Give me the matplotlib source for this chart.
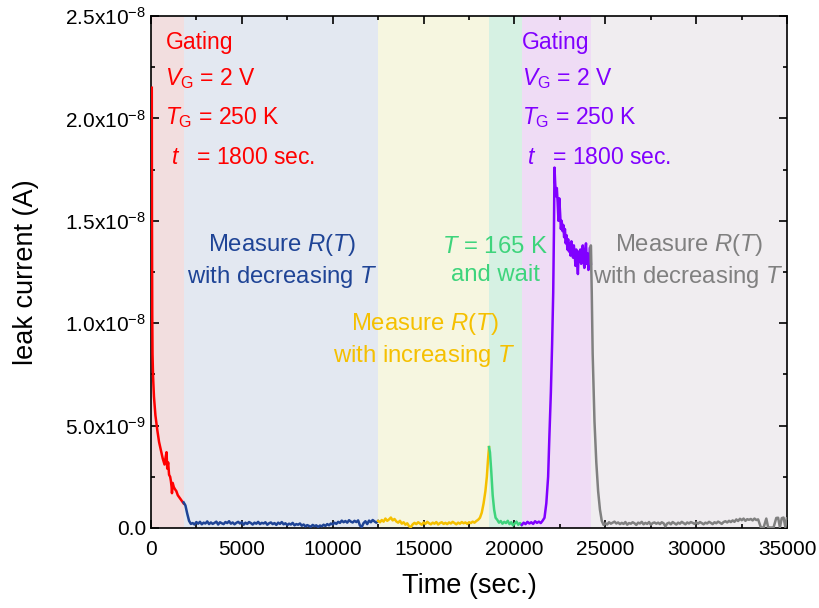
import numpy as np
import matplotlib.pyplot as plt
from matplotlib.ticker import MultipleLocator, FixedLocator

plt.rcParams['font.family'] = ['Liberation Sans', 'DejaVu Sans']
plt.rcParams['mathtext.fontset'] = 'custom'
plt.rcParams['mathtext.rm'] = 'Liberation Sans'
plt.rcParams['mathtext.it'] = 'Liberation Sans:italic'
plt.rcParams['mathtext.bf'] = 'Liberation Sans:bold'

# stage boundaries (sec.)
stage_edges = [0, 1800, 12500, 18600, 20400, 24200, 35000]
stage_bg = ['#f2dedf', '#e3e8f1', '#f6f6e0', '#d6f1e3', '#efdcf5', '#f0edf0']

# gating 1 (red)
red_t = [50, 60, 75, 90, 120, 170, 250, 350, 450, 550, 650, 750, 820, 860, 900, 950,
         1000, 1060, 1100, 1140, 1160, 1200, 1260, 1320, 1400, 1480, 1560, 1640, 1720, 1800]
red_i = [21.5, 15.0, 10.5, 8.5, 7.4, 6.4, 5.5, 4.8, 4.2, 3.8, 3.4, 3.1, 3.5, 3.7, 2.9, 3.2,
         2.6, 2.5, 2.3, 2.0, 1.7, 2.2, 2.0, 1.9, 1.8, 1.6, 1.5, 1.4, 1.3, 1.2]  # 1e-9 A

# R(T), decreasing T (blue)
blue_head_t = [1800, 1900, 2000, 2100, 2200]
blue_head_i = [12.5, 11.0, 7.0, 3.5, 2.0]  # 1e-10 A
blue_noise = [2.4, 1.7, 2.9, 2.1, 3.0, 1.8, 2.6, 2.2, 3.2, 1.9,
              2.7, 2.0, 2.5, 3.1, 1.7, 2.8, 2.3, 1.9, 2.9, 2.4,
              3.3, 2.1, 2.7, 1.8, 2.5, 3.0, 2.2, 2.8, 1.6, 2.6,
              2.0, 2.9, 2.4, 1.7, 2.6, 2.1, 3.0, 1.9, 2.5, 2.2,
              2.8, 1.6, 2.3, 2.7, 1.9, 2.4, 1.5, 2.6, 2.0, 2.9,
              1.8, 2.3, 1.4, 2.1, 1.7, 2.5, 1.3, 1.9, 1.6, 2.2,
              1.1, 1.7, 0.8, 1.4, 1.0, 0.6, 1.5, 0.9, 1.3, 0.5,
              1.2, 0.8, 1.6, 1.0, 1.9, 1.3, 2.2, 1.7, 2.6, 2.0,
              3.0, 2.5, 3.6, 2.8, 3.4, 2.6, 3.8, 3.1, 2.7, 3.5,
              2.9, 3.7, 1.2, 0.5, 2.4, 3.3, 1.9, 3.6, 2.8, 3.9,
              3.2, 2.6, 3.4]  # 1e-10 A, 2300..12500

# R(T), increasing T (yellow)
yellow_noise = [3.4, 2.8, 3.9, 3.1, 4.6, 3.5, 4.2, 5.1, 3.7, 4.4,
                3.2, 2.6, 3.5, 2.1, 2.8, 1.6, 2.3, 0.9, 0.4, 1.8,
                2.5, 1.9, 2.8, 2.2, 1.6, 2.7, 2.0, 3.0, 2.3, 1.8,
                2.6, 2.1, 2.9, 1.7, 2.4, 2.8, 2.0, 2.5, 1.9, 2.7,
                2.2, 3.0, 2.4, 1.8, 2.6, 2.1, 2.9, 2.3, 2.7, 2.0,
                2.8, 2.4, 3.1, 2.6, 3.4, 4.0]  # 1e-10 A, 12500..18000
yellow_rise_t = [18100, 18200, 18300, 18400, 18480, 18540, 18600]
yellow_rise_i = [5.0, 7.5, 12.0, 18.0, 25.0, 33.0, 39.5]  # 1e-10 A

# T = 165 K and wait (green)
green_fall_t = [18600, 18650, 18720, 18800, 18880, 18960]
green_fall_i = [39.5, 37.0, 28.0, 16.0, 9.0, 5.0]
green_noise = [4.0, 2.6, 3.4, 2.1, 3.0, 2.4, 3.5, 1.9, 2.8, 1.3, 2.2, 3.1, 1.6, 2.4, 1.5]

# gating 2 (purple)
purple_noise = [1.5, 2.6, 1.9, 3.0, 2.2, 2.8, 2.0, 3.3, 2.5, 3.1, 2.4, 3.6]  # 1e-10 A
purple_rise_t = [21650, 21750, 21850, 21920, 22000, 22070, 22130, 22170, 22200]
purple_rise_i = [0.5, 1.2, 2.5, 4.5, 6.6, 9.0, 11.5, 14.5, 17.6]  # 1e-9 A
purple_tail = [16.8, 16.2, 16.6, 15.9, 15.0, 16.1, 15.4, 14.6, 15.0, 14.5, 14.8, 14.2, 14.6, 13.9, 14.3,
               13.6, 14.1, 13.5, 13.9, 13.3, 14.0, 13.7, 13.2, 13.8, 13.4, 12.8, 13.6, 13.1, 12.4, 13.5,
               13.0, 13.6, 12.9, 13.3, 13.8, 13.0, 12.7, 13.5, 13.9, 12.9, 13.4, 12.6, 13.2, 13.7, 12.9]

# R(T), decreasing T again (gray)
gray_fall_t = [24200, 24200, 24250, 24300, 24400, 24500, 24600, 24700, 24800, 24900]
gray_fall_i = [12.9, 13.8, 11.5, 8.5, 5.2, 3.2, 1.8, 0.9, 0.35, 0.15]  # 1e-9 A
gray_noise = [2.3, 1.7, 2.8, 2.1, 2.6, 3.1, 2.2, 2.7, 1.9, 2.5,
              2.0, 2.9, 1.6, 2.4, 2.1, 2.8, 2.3, 1.5, 2.6, 2.2,
              3.0, 1.8, 2.5, 2.0, 2.9, 1.6, 2.4, 2.7, 2.1, 2.6,
              1.9, 2.8, 2.3, 0.8, 2.2, 2.6, 1.8, 2.9, 2.3, 1.7,
              2.6, 2.1, 3.0, 2.4, 1.8, 2.7, 2.2, 2.9, 2.5, 2.0,
              2.7, 2.1, 2.9, 2.4, 1.8, 2.6, 2.2, 3.0, 2.5, 1.9,
              2.8, 2.3, 3.1, 2.6, 2.0, 2.9, 3.3, 2.7, 3.5, 2.9,
              3.7, 3.0, 4.2, 3.4, 4.5, 3.8, 4.6, 3.5, 4.3, 4.0,
              4.4, 3.7, 4.6, 3.9, 4.2]  # 1e-10 A, 25000..33400
gray_end_t = [33550, 33700, 33850, 33950, 34100, 34250, 34400, 34500, 34600, 34700, 34800, 34900, 34980]
gray_end_i = [0.3, 0.2, 4.6, 0.4, 0.2, 0.3, 4.9, 5.0, 0.3, 4.8, 5.1, 0.4, 4.7]  # 1e-10 A

# assemble the traces
red_x = np.array(red_t)
red_y = np.array(red_i) * 1e-9

blue_x = np.concatenate([blue_head_t, np.linspace(2300, 12500, len(blue_noise))])
blue_y = np.concatenate([blue_head_i, blue_noise]) * 1e-10

yellow_x = np.concatenate([np.linspace(12500, 18000, len(yellow_noise)), yellow_rise_t])
yellow_y = np.concatenate([yellow_noise, yellow_rise_i]) * 1e-10

green_x = np.concatenate([green_fall_t, np.linspace(19050, 20400, len(green_noise))])
green_y = np.concatenate([green_fall_i, green_noise]) * 1e-10

purple_x = np.concatenate([np.linspace(20400, 21550, len(purple_noise)), purple_rise_t,
                           np.linspace(22240, 24200, len(purple_tail))])
purple_y = np.concatenate([np.array(purple_noise) * 1e-10, np.array(purple_rise_i) * 1e-9,
                           np.array(purple_tail) * 1e-9])

gray_x = np.concatenate([gray_fall_t, np.linspace(25000, 33400, len(gray_noise)), gray_end_t])
gray_y = np.concatenate([np.array(gray_fall_i) * 1e-9, np.array(gray_noise) * 1e-10,
                         np.array(gray_end_i) * 1e-10])

fig = plt.figure(figsize=(8.2, 6.08), dpi=100)
ax = fig.add_axes([0.184, 0.1316, 0.776, 0.842])

for i in range(len(stage_bg)):
    ax.axvspan(stage_edges[i], stage_edges[i + 1], color=stage_bg[i], lw=0, zorder=0)

lw = 1.8
ax.plot(red_x, red_y, color='#ff0000', lw=lw, zorder=3)
ax.plot(blue_x, blue_y, color='#1f4496', lw=lw, zorder=3)
ax.plot(yellow_x, yellow_y, color='#f5c000', lw=lw, zorder=3)
ax.plot(green_x, green_y, color='#3ed47c', lw=lw, zorder=3)
ax.plot(purple_x, purple_y, color='#8000ff', lw=lw, zorder=3)
ax.plot(gray_x, gray_y, color='#808080', lw=lw, zorder=3)

ax.set_xlim(0, 35000)
ax.set_ylim(0, 2.5e-8)
ax.xaxis.set_major_locator(MultipleLocator(5000))
ax.xaxis.set_minor_locator(MultipleLocator(2500))
yticks = [0, 5e-9, 1e-8, 1.5e-8, 2e-8, 2.5e-8]
ax.yaxis.set_major_locator(FixedLocator(yticks))
ax.yaxis.set_minor_locator(MultipleLocator(2.5e-9))
ax.set_yticklabels(['0.0', r'5.0x10$^{-9}$', r'1.0x10$^{-8}$', r'1.5x10$^{-8}$',
                    r'2.0x10$^{-8}$', r'2.5x10$^{-8}$'])
ax.tick_params(which='both', direction='in', top=True, right=True, width=1.2, labelsize=15)
ax.tick_params(which='major', length=6)
ax.tick_params(which='minor', length=3)
ax.tick_params(axis='x', pad=9)
for s in ax.spines.values():
    s.set_linewidth(1.2)

ax.set_xlabel('Time (sec.)', fontsize=19.5, labelpad=10)
ax.set_ylabel('leak current (A)', fontsize=19.5, labelpad=19)

fs = 16.5
fs2 = 17.2
# gating annotations
for x0, col in [(800, '#ff0000'), (20400, '#8000ff')]:
    ax.text(x0, 2.339e-8, 'Gating', color=col, fontsize=fs, zorder=4)
    ax.text(x0, 2.163e-8, r'$V_\mathrm{G}$ = 2 V', color=col, fontsize=fs, zorder=4)
    ax.text(x0, 1.973e-8, r'$T_\mathrm{G}$ = 250 K', color=col, fontsize=fs, zorder=4)
    ax.text(x0 + 300, 1.777e-8, r'$t$   = 1800 sec.', color=col, fontsize=fs, zorder=4)

# stage labels
ax.text(7200, 1.304e-8, 'Measure $R$($T$)\nwith decreasing $T$', color='#1f4496',
        fontsize=fs2, ha='center', va='center', linespacing=1.3, zorder=4)
ax.text(15050, 0.918e-8, 'Measure $R$($T$)\nwith increasing $T$', color='#f5c000',
        fontsize=fs2, ha='center', va='center', linespacing=1.3, zorder=4)
ax.text(18950, 1.304e-8, '$T$ = 165 K\nand wait', color='#3ed47c',
        fontsize=fs2, ha='center', va='center', linespacing=1.3, zorder=4)
ax.text(29580, 1.304e-8, 'Measure $R$($T$)\nwith decreasing $T$', color='#808080',
        fontsize=fs2, ha='center', va='center', linespacing=1.3, zorder=4)

fig.savefig('out.png', dpi=100)
